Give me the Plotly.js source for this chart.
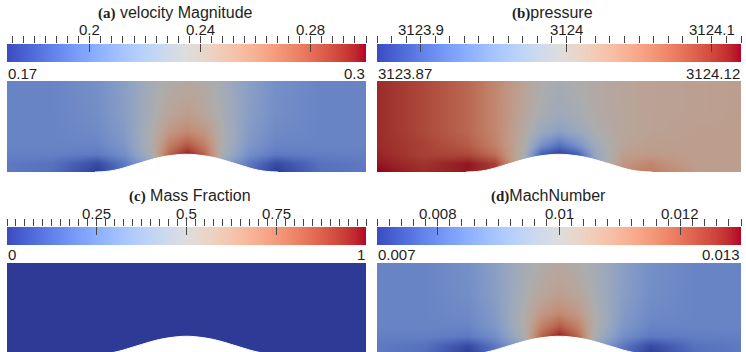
<!DOCTYPE html>
<html><head><meta charset="utf-8">
<script src="https://cdn.plot.ly/plotly-3.0.1.min.js"></script>
<style>html,body{margin:0;padding:0;background:#fff;}#chart{width:746px;height:352px;}</style>
</head><body><div id="chart"></div>
<script>
// ---------------- data ----------------
const panelLabels = ['(a)', '(b)', '(c)', '(d)'];
const panelNames = ['velocity Magnitude', 'pressure', 'Mass Fraction', 'MachNumber'];
const labelGap = [' ', '', ' ', ''];
const rangeMin = [0.17, 3123.87, 0, 0.007];
const rangeMax = [0.3, 3124.12, 1, 0.013];
const rangeMinText = ['0.17', '3123.87', '0', '0.007'];
const rangeMaxText = ['0.3', '3124.12', '1', '0.013'];
const majorTicks = [[0.2, 0.24, 0.28], [3123.9, 3124, 3124.1], [0.25, 0.5, 0.75], [0.008, 0.01, 0.012]];
const majorTickText = [['0.2', '0.24', '0.28'], ['3123.9', '3124', '3124.1'], ['0.25', '0.5', '0.75'], ['0.008', '0.01', '0.012']];
const minorStep = [0.004, 0.01, 0.025, 0.0002];

const gridX = [0, 0.5, 1.0, 1.3, 1.6, 1.8, 2.0, 2.2, 2.4, 2.7, 3.0, 3.5, 4.0];
const gridY = [0, 0.1, 0.2, 0.3, 0.45, 0.65, 1.0];

const velocity = [
  [0.195, 0.19, 0.17, 0.19, 0.23, 0.28, 0.3, 0.28, 0.23, 0.19, 0.17, 0.19, 0.195],
  [0.195, 0.192, 0.176, 0.195, 0.22, 0.275, 0.3, 0.275, 0.22, 0.195, 0.176, 0.192, 0.195],
  [0.198, 0.198, 0.195, 0.205, 0.232, 0.275, 0.297, 0.275, 0.232, 0.205, 0.195, 0.197, 0.198],
  [0.2, 0.2, 0.2, 0.21, 0.235, 0.265, 0.28, 0.265, 0.235, 0.21, 0.2, 0.2, 0.2],
  [0.2, 0.2, 0.203, 0.213, 0.235, 0.252, 0.26, 0.252, 0.235, 0.213, 0.203, 0.2, 0.2],
  [0.2, 0.2, 0.205, 0.215, 0.232, 0.243, 0.248, 0.243, 0.232, 0.215, 0.205, 0.2, 0.2],
  [0.2, 0.2, 0.206, 0.216, 0.23, 0.237, 0.24, 0.237, 0.23, 0.216, 0.206, 0.2, 0.2]
];

const pressure = [
  [3124.12, 3124.107, 3124.115, 3124.1, 3123.97, 3123.895, 3123.87, 3123.895, 3123.97, 3124.04, 3124.055, 3124.025, 3124.02],
  [3124.115, 3124.102, 3124.115, 3124.095, 3123.98, 3123.89, 3123.87, 3123.89, 3123.965, 3124.03, 3124.045, 3124.02, 3124.02],
  [3124.11, 3124.095, 3124.09, 3124.065, 3123.995, 3123.895, 3123.87, 3123.895, 3123.97, 3124.02, 3124.025, 3124.02, 3124.02],
  [3124.107, 3124.095, 3124.078, 3124.05, 3124.0, 3123.94, 3123.91, 3123.94, 3123.98, 3124.012, 3124.02, 3124.02, 3124.02],
  [3124.107, 3124.09, 3124.07, 3124.045, 3124.005, 3123.975, 3123.96, 3123.975, 3123.995, 3124.01, 3124.015, 3124.02, 3124.02],
  [3124.107, 3124.09, 3124.07, 3124.045, 3124.01, 3123.99, 3123.98, 3123.987, 3124.0, 3124.01, 3124.015, 3124.017, 3124.02],
  [3124.107, 3124.09, 3124.07, 3124.045, 3124.015, 3123.995, 3123.987, 3123.995, 3124.002, 3124.01, 3124.015, 3124.017, 3124.02]
];

const massX = [0, 4];
const massY = [0, 1];
const massFraction = [
  [0, 0],
  [0, 0]
];

const machNumber = [
  [0.00815, 0.00792, 0.007, 0.00792, 0.00977, 0.01208, 0.013, 0.01208, 0.00977, 0.00792, 0.007, 0.00792, 0.00815],
  [0.00815, 0.00802, 0.00728, 0.00815, 0.00931, 0.01185, 0.013, 0.01185, 0.00931, 0.00815, 0.00728, 0.00802, 0.00815],
  [0.00829, 0.00829, 0.00815, 0.00861, 0.00986, 0.01185, 0.01285, 0.01185, 0.00986, 0.00861, 0.00815, 0.00825, 0.00829],
  [0.00838, 0.00838, 0.00838, 0.00885, 0.01, 0.01138, 0.01208, 0.01138, 0.01, 0.00885, 0.00838, 0.00838, 0.00838],
  [0.00838, 0.00838, 0.00852, 0.00898, 0.01, 0.01078, 0.01115, 0.01078, 0.01, 0.00898, 0.00852, 0.00838, 0.00838],
  [0.00838, 0.00838, 0.00861, 0.00908, 0.00986, 0.01037, 0.0106, 0.01037, 0.00986, 0.00908, 0.00861, 0.00838, 0.00838],
  [0.00838, 0.00838, 0.00866, 0.00912, 0.00977, 0.01009, 0.01023, 0.01009, 0.00977, 0.00912, 0.00866, 0.00838, 0.00838]
];

// bump (wall) outline
const bumpX = [0.98, 1.1, 1.2, 1.3, 1.4, 1.5, 1.6, 1.7, 1.8, 1.9, 2.0, 2.1, 2.2, 2.3, 2.4, 2.5, 2.6, 2.7, 2.8, 2.9, 3.02];
const bumpY = [0, 0.006, 0.02, 0.045, 0.075, 0.105, 0.135, 0.16, 0.178, 0.19, 0.195, 0.19, 0.178, 0.16, 0.135, 0.105, 0.075, 0.045, 0.02, 0.006, 0];

// ---------------- style ----------------
const coolWarm = [
  [59,76,192],[68,90,204],[77,104,215],[87,117,225],[98,130,234],[108,142,241],[119,154,247],[130,165,251],
  [141,176,254],[152,185,255],[163,194,255],[174,201,253],[184,208,249],[194,213,244],[204,217,238],[213,219,230],
  [221,221,221],[229,216,209],[236,211,197],[241,204,185],[245,196,173],[247,187,160],[247,177,148],[247,166,135],
  [244,154,123],[241,141,111],[236,127,99],[229,112,88],[222,96,77],[213,80,66],[203,62,56],[192,40,47],[180,4,38]
];
function makeScale(f) {
  const n = coolWarm.length - 1;
  return coolWarm.map((c, i) => [i / n, 'rgb(' + c.map(v => Math.round(v * f)).join(',') + ')']);
}
const barScale = makeScale(1.0);
const fieldScale = makeScale(0.78);

const W = 746, H = 352;
const px = x => x / W;
const py = y => 1 - y / H;

const panelCols = [[7, 366], [377, 741], [7, 366], [377, 741]];
const barRows = [[44, 62], [44, 62], [227, 245], [227, 245]];
const fieldRows = [[81, 172], [81, 172], [263, 352], [263, 352]];
const fieldYRange = [[0, 1], [0, 1], [0.022, 1], [0.022, 1]];
const titleX = [96, 510, 127, 489];
const titleY = [13, 13, 196, 196];
const tickLabelY = [30, 30, 213, 213];
const minMaxY = [73, 73, 254, 254];

const fieldData = [
  {x: gridX, y: gridY, z: velocity},
  {x: gridX, y: gridY, z: pressure},
  {x: massX, y: massY, z: massFraction},
  {x: gridX, y: gridY, z: machNumber}
];

const FONT = 'Liberation Sans, Arial, sans-serif';
const TXT = '#1e1e1e';
const TICKC = '#444';

const traces = [];
const layout = {
  width: W, height: H,
  margin: {l: 0, r: 0, t: 0, b: 0},
  paper_bgcolor: '#fff', plot_bgcolor: 'rgba(0,0,0,0)',
  showlegend: false,
  font: {family: FONT, color: TXT, size: 15},
  annotations: []
};

for (let i = 0; i < 4; i++) {
  const xf = i * 4 + 1, xc = i * 4 + 2, xm = i * 4 + 3, xi = i * 4 + 4;
  const yf = i * 2 + 1, yc = i * 2 + 2;
  const xn = k => (k === 1 ? 'xaxis' : 'xaxis' + k);
  const yn = k => (k === 1 ? 'yaxis' : 'yaxis' + k);
  const xr = k => (k === 1 ? 'x' : 'x' + k);
  const yr = k => (k === 1 ? 'y' : 'y' + k);
  const dom = [px(panelCols[i][0]), px(panelCols[i][1])];
  const lo = rangeMin[i], hi = rangeMax[i];

  // field axes
  layout[xn(xf)] = {domain: dom, range: [0, 4], visible: false, anchor: yr(yf), fixedrange: true};
  layout[yn(yf)] = {domain: [py(fieldRows[i][1]), py(fieldRows[i][0])], range: fieldYRange[i], visible: false, anchor: xr(xf), fixedrange: true};

  // colour bar axes
  const common = {domain: dom, range: [lo, hi], showgrid: false, zeroline: false, showline: false, anchor: yr(yc), side: 'top', fixedrange: true};
  layout[xn(xc)] = Object.assign({}, common, {
    tickmode: 'array', tickvals: majorTicks[i],
    ticks: 'outside', ticklen: 7, tickwidth: 1, tickcolor: TICKC, showticklabels: false
  });
  layout[xn(xm)] = Object.assign({}, common, {
    overlaying: xr(xc), tickmode: 'linear', tick0: 0, dtick: minorStep[i],
    ticks: 'outside', ticklen: 7, tickwidth: 1, tickcolor: TICKC, showticklabels: false
  });
  layout[xn(xi)] = Object.assign({}, common, {
    overlaying: xr(xc), tickmode: 'array', tickvals: majorTicks[i],
    ticks: 'inside', ticklen: 8, tickwidth: 1, tickcolor: TICKC, showticklabels: false
  });
  layout[yn(yc)] = {domain: [py(barRows[i][1]), py(barRows[i][0])], range: [0, 1], visible: false, anchor: xr(xc), fixedrange: true};

  // field heatmap
  const fd = fieldData[i];
  traces.push({type: 'heatmap', x: fd.x, y: fd.y, z: fd.z, zsmooth: 'best', zmin: lo, zmax: hi,
    colorscale: fieldScale, showscale: false, xaxis: xr(xf), yaxis: yr(yf), hoverinfo: 'skip'});
  // wall bump
  traces.push({type: 'scatter', mode: 'lines', x: bumpX, y: bumpY, fill: 'tozeroy', fillcolor: '#ffffff',
    line: {color: '#ffffff', width: 1, shape: 'spline'}, xaxis: xr(xf), yaxis: yr(yf), hoverinfo: 'skip'});
  // colour bar gradient
  traces.push({type: 'heatmap', x: [lo, hi], y: [0, 1], z: [[lo, hi], [lo, hi]], zsmooth: 'best', zmin: lo, zmax: hi,
    colorscale: barScale, showscale: false, xaxis: xr(xc), yaxis: yr(yc), hoverinfo: 'skip'});
  // dummy traces for overlay axes
  traces.push({type: 'scatter', mode: 'markers', x: [lo], y: [0.5], marker: {opacity: 0}, xaxis: xr(xm), yaxis: yr(yc), hoverinfo: 'skip'});
  traces.push({type: 'scatter', mode: 'markers', x: [lo], y: [0.5], marker: {opacity: 0}, xaxis: xr(xi), yaxis: yr(yc), hoverinfo: 'skip'});

  // major tick labels, placed on the colour-bar axis
  majorTicks[i].forEach((v, k) => {
    layout.annotations.push({xref: xr(xc), yref: 'paper', x: v, y: py(tickLabelY[i]), xanchor: 'center', yanchor: 'middle',
      showarrow: false, font: {family: FONT, size: 15, color: TXT}, text: majorTickText[i][k]});
  });

  // title
  layout.annotations.push({
    xref: 'paper', yref: 'paper', x: px(titleX[i]), y: py(titleY[i]), xanchor: 'left', yanchor: 'middle',
    showarrow: false, font: {family: FONT, size: 16, color: TXT},
    text: '<b><span style="font-family:Liberation Serif;font-size:15px">' + panelLabels[i] + '</span></b>' + labelGap[i] + panelNames[i]
  });
  // min / max labels
  layout.annotations.push({xref: 'paper', yref: 'paper', x: px(panelCols[i][0] - 1), y: py(minMaxY[i]), xanchor: 'left', yanchor: 'middle',
    showarrow: false, font: {family: FONT, size: 15, color: TXT}, text: rangeMinText[i]});
  layout.annotations.push({xref: 'paper', yref: 'paper', x: px(panelCols[i][1] + 1), y: py(minMaxY[i]), xanchor: 'right', yanchor: 'middle',
    showarrow: false, font: {family: FONT, size: 15, color: TXT}, text: rangeMaxText[i]});
}

Plotly.newPlot('chart', traces, layout, {staticPlot: true, displayModeBar: false});
</script>
</body></html>
